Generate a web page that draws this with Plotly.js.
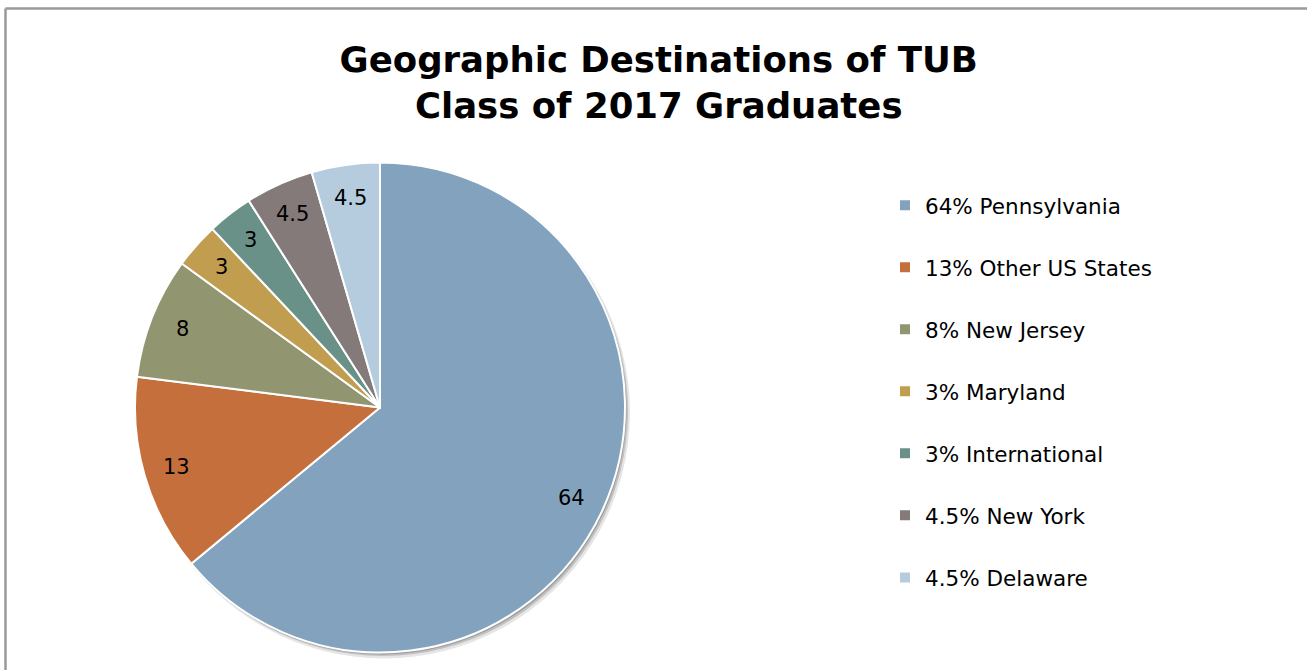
<!DOCTYPE html>
<html>
<head>
<meta charset="utf-8">
<script src="https://cdn.plot.ly/plotly-3.0.1.min.js"></script>
<style>
html,body{margin:0;padding:0;background:#fff;}
#chart{width:1307px;height:670px;}
</style>
</head>
<body>
<div id="chart"></div>
<script>
var categories = ["Pennsylvania", "Other US States", "New Jersey", "Maryland", "International", "New York", "Delaware"];
var values = [64, 13, 8, 3, 3, 4.5, 4.5];
var valueLabels = ["64", "13", "8", "3", "3", "4.5", "4.5"];
var colors = ["#82A2BE", "#C5703C", "#919670", "#C19E4F", "#6A9188", "#847A79", "#B5CBDE"];

var FONT = "'DejaVu Sans', 'Liberation Sans', sans-serif";

var W = 1307, H = 670;
var cx = 380, cy = 407.5, R = 245;

function domainFor(dx, dy, dr) {
  return {x: [(cx + dx - R - dr) / W, (cx + dx + R + dr) / W],
          y: [(H - cy - dy - R - dr) / H, (H - cy - dy + R + dr) / H]};
}

function shadowPie(dx, dy, dr, col) {
  return {
    type: "pie", values: values, labels: categories, sort: false, direction: "clockwise", rotation: 0,
    marker: {colors: values.map(function(){ return col; }), line: {color: col, width: 0}},
    textinfo: "none", showlegend: false, hoverinfo: "skip",
    domain: domainFor(dx, dy, dr)
  };
}

var legendLabels = categories.map(function(c, i){
  return '<span style="font-size:21.5px">' + valueLabels[i] + "% " + c + "</span><br> ";
});

var pie = {
  type: "pie",
  labels: legendLabels,
  values: values,
  textinfo: "none",
  sort: false,
  direction: "clockwise",
  rotation: 0,
  marker: {colors: colors, line: {color: "#ffffff", width: 2}},
  domain: domainFor(0, 0, 0),
  hoverinfo: "label+value"
};

// value labels placed along each slice's mid-angle (computed from the data)
var total = values.reduce(function(a, b){ return a + b; }, 0);
var annotations = [];
var cum = 0;
values.forEach(function(v, i){
  var mid = (cum + v / 2) / total * 2 * Math.PI;
  cum += v;
  var r = 0.865 * R;
  var px = cx + r * Math.sin(mid);
  var py = cy - r * Math.cos(mid);
  annotations.push({
    xref: "paper", yref: "paper", x: px / W, y: 1 - py / H,
    xanchor: "center", yanchor: "middle", showarrow: false,
    text: valueLabels[i],
    font: {family: FONT, size: 21, color: "#000000"}
  });
});

var layout = {
  width: W, height: H,
  margin: {l: 0, r: 0, t: 0, b: 0},
  paper_bgcolor: "#ffffff",
  showlegend: true,
  title: {
    text: "<b>Geographic Destinations of TUB<br>Class of 2017 Graduates</b>",
    font: {family: FONT, size: 35.5, color: "#000000"},
    x: 0.504, xanchor: "center",
    yref: "container", y: 1 - 72 / H, yanchor: "middle"
  },
  legend: {
    x: 885 / W, xanchor: "left",
    y: 1 - 184 / H, yanchor: "top",
    valign: "top",
    font: {family: FONT, size: 22.7, color: "#000000"},
    bgcolor: "rgba(0,0,0,0)"
  },
  annotations: annotations,
  shapes: [
    {type: "line", xref: "paper", yref: "paper", x0: 5.5 / W, x1: 5.5 / W, y0: 0, y1: 1 - 8.5 / H, line: {color: "#9a9a9a", width: 2.5}},
    {type: "line", xref: "paper", yref: "paper", x0: 5.5 / W, x1: 1, y0: 1 - 8.5 / H, y1: 1 - 8.5 / H, line: {color: "#9a9a9a", width: 2.5}}
  ]
};

var traces = [
  shadowPie(4, 5, 1, "rgba(0,0,0,0.10)"),
  shadowPie(3, 3.5, 0, "rgba(0,0,0,0.16)"),
  shadowPie(1.5, 2, 0, "rgba(0,0,0,0.18)"),
  pie
];

Plotly.newPlot("chart", traces, layout, {displayModeBar: false, staticPlot: true});
</script>
</body>
</html>
